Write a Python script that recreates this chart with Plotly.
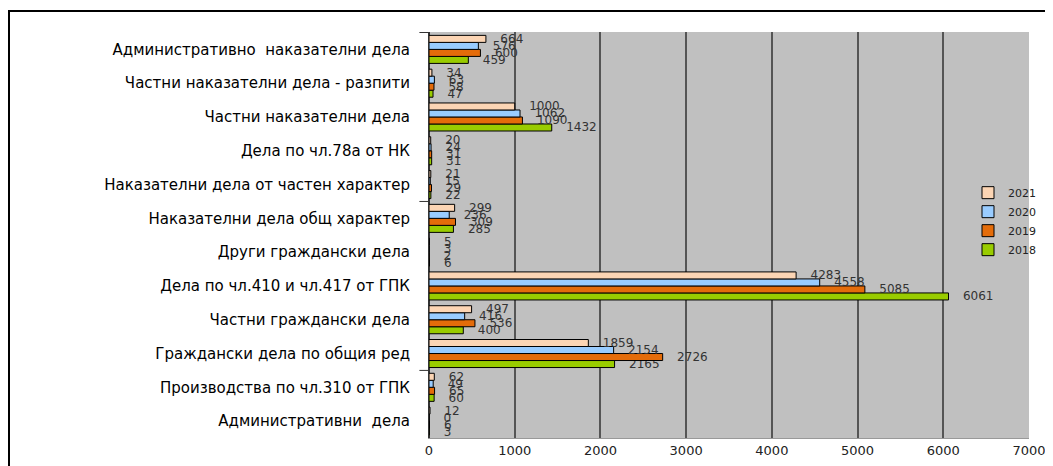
import plotly.graph_objects as go

categories = [
    "Административно  наказателни дела",
    "Частни наказателни дела - разпити",
    "Частни наказателни дела",
    "Дела по чл.78а от НК",
    "Наказателни дела от частен характер",
    "Наказателни дела общ характер",
    "Други граждански дела",
    "Дела по чл.410 и чл.417 от ГПК",
    "Частни граждански дела",
    "Граждански дела по общия ред",
    "Производства по чл.310 от ГПК",
    "Административни  дела",
]
v2021 = [664, 34, 1000, 20, 21, 299, 5, 4283, 497, 1859, 62, 12]
v2020 = [576, 63, 1062, 24, 15, 236, 3, 4558, 416, 2154, 49, 0]
v2019 = [600, 58, 1090, 31, 29, 309, 2, 5085, 536, 2726, 65, 6]
v2018 = [459, 47, 1432, 31, 22, 285, 6, 6061, 400, 2165, 60, 3]
x_ticks = [0, 1000, 2000, 3000, 4000, 5000, 6000, 7000]

series = [
    ("2018", v2018, "#99CC00"),
    ("2019", v2019, "#E46C0A"),
    ("2020", v2020, "#99CCFF"),
    ("2021", v2021, "#FCD5B4"),
]

FONT = "Liberation Sans, Arial, sans-serif"
WIDE = "DejaVu Sans, sans-serif"

# page body has an 8px default margin; figure sized to fit the 1053x466 window
W, H = 1045, 458
L, R, T, B = 421, 24, 24, 28
PW, PH = W - L - R, H - T - B

fig = go.Figure()
for name, vals, col in series:
    fig.add_trace(go.Bar(
        name=name, y=categories, x=vals, orientation="h",
        marker=dict(color=col, line=dict(color="#000000", width=1)),
        text=["\u00a0\u00a0\u00a0" + str(v) for v in vals],
        textposition="outside", cliponaxis=False, constraintext="none",
        textfont=dict(family=WIDE, size=12, color="#333333"),
    ))

# small axis ticks every 5 category boundaries (counted from the top)
n = len(categories)
tick_marks = [n - 0.5 - 5 * k for k in range(3)]
shapes = [dict(type="line", xref="paper", yref="y", x0=-0.016, x1=0, y0=yb, y1=yb,
               line=dict(color="#333333", width=1)) for yb in tick_marks]
shapes.append(dict(type="rect", xref="paper", yref="paper",
                   x0=(1 - L) / PW, x1=1.2, y0=-0.2, y1=(PH + T - 3) / PH,
                   line=dict(color="#000000", width=2), fillcolor="rgba(0,0,0,0)",
                   layer="below"))

fig.update_layout(
    width=W, height=H,
    margin=dict(l=L, r=R, t=T, b=B),
    paper_bgcolor="white", plot_bgcolor="#C0C0C0",
    barmode="group", bargap=0.17, bargroupgap=0,
    font=dict(family=FONT, color="#000000"),
    showlegend=True,
    legend=dict(traceorder="reversed", x=1.02, y=0.64, xanchor="right", yanchor="top",
                bgcolor="rgba(0,0,0,0)", font=dict(size=11, family=WIDE, color="#222222"),
                itemwidth=30, tracegroupgap=0, borderwidth=0),
    xaxis=dict(range=[0, 7000], tickvals=x_ticks, ticktext=[str(t) for t in x_ticks],
               showgrid=True, gridcolor="#555555", gridwidth=2,
               zeroline=True, zerolinecolor="#333333", zerolinewidth=1,
               showline=True, linecolor="#999999", linewidth=1, automargin=False,
               tickfont=dict(size=13, family=WIDE, color="#222222"), ticks="",
               fixedrange=True),
    yaxis=dict(categoryorder="array", categoryarray=categories[::-1],
               showgrid=False, ticks="", ticklabelstandoff=15, automargin=False,
               tickfont=dict(size=15, family=WIDE, color="#000000"),
               showline=True, linecolor="#333333", linewidth=1),
    shapes=shapes,
)

fig.write_html("out.html")
